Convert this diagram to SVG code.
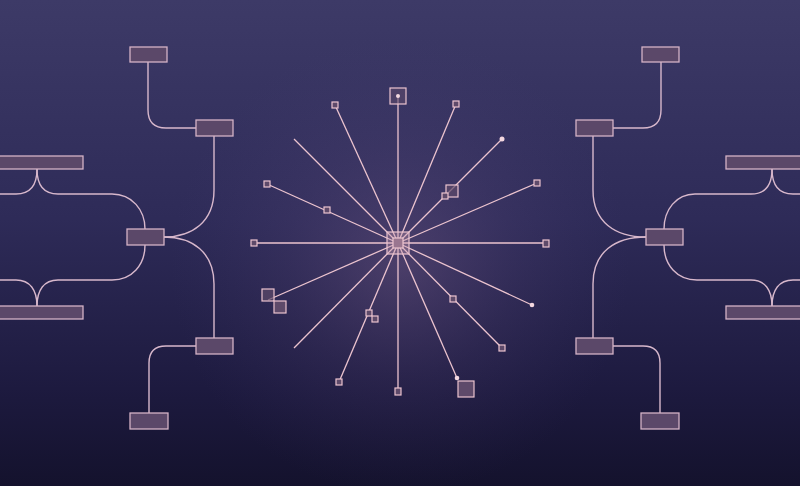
<svg xmlns="http://www.w3.org/2000/svg" width="800" height="486" viewBox="0 0 800 486">
<defs>
<linearGradient id="bg" x1="0" y1="0" x2="0" y2="1">
<stop offset="0" stop-color="#3d3a67"/>
<stop offset="0.45" stop-color="#2e2b58"/>
<stop offset="0.8" stop-color="#1d1a3f"/>
<stop offset="1" stop-color="#14122d"/>
</linearGradient>
<radialGradient id="glow" cx="400" cy="265" r="230" gradientUnits="userSpaceOnUse">
<stop offset="0" stop-color="#8a6a96" stop-opacity="0.35"/>
<stop offset="0.5" stop-color="#6a5488" stop-opacity="0.15"/>
<stop offset="1" stop-color="#4a3e78" stop-opacity="0"/>
</radialGradient>
<style>
.box{fill:#5b4869;stroke:#d4b2c6;stroke-width:1.3}
.conn{fill:none;stroke:#d8b8cc;stroke-width:1.4}
.ray{fill:none;stroke:#ecc4cf;stroke-width:1.3}
.sq{fill:#5e4a6a;stroke:#ecc4cf;stroke-width:1.2}
.dot{fill:#f4d8e0}
</style>
</defs>
<rect width="800" height="486" fill="url(#bg)"/>
<rect width="800" height="486" fill="url(#glow)"/>

<g id="connectors">
<path class="conn" d="M148,62 V110 Q148,128 166,128 H196"/>
<path class="conn" d="M214,136 V190 C214,222 192,237 164,237"/>
<path class="conn" d="M164,237 C192,237 214,252 214,284 V338"/>
<path class="conn" d="M37,169 C37,185 44,194 58,194 H112 C132,194 145,210 145,229"/>
<path class="conn" d="M37,169 C37,185 30,194 16,194 H-5"/>
<path class="conn" d="M145,245 C145,265 132,280 112,280 H58 C44,280 37,290 37,306"/>
<path class="conn" d="M37,306 C37,290 30,280 16,280 H-5"/>
<path class="conn" d="M196,346 H166 Q149,346 149,363 V413"/>

<path class="conn" d="M661,62 V110 Q661,128 643,128 H613"/>
<path class="conn" d="M593,136 V190 C593,222 615,237 646,237"/>
<path class="conn" d="M646,237 C615,237 593,252 593,284 V338"/>
<path class="conn" d="M772,169 C772,185 765,194 751,194 H695 C676,194 664,210 664,229"/>
<path class="conn" d="M772,169 C772,185 779,194 793,194 H805"/>
<path class="conn" d="M664,245 C664,265 677,280 697,280 H751 C765,280 772,290 772,306"/>
<path class="conn" d="M772,306 C772,290 779,280 793,280 H805"/>
<path class="conn" d="M613,346 H643 Q660,346 660,363 V413"/>
</g>

<g id="left-nodes">
<rect id="l-top" class="box" x="130" y="47" width="37" height="15"/>
<rect id="l-upper" class="box" x="196" y="120" width="37" height="16"/>
<rect id="l-bar-top" class="box" x="-5" y="156" width="88" height="13"/>
<rect id="l-mid" class="box" x="127" y="229" width="37" height="16"/>
<rect id="l-bar-bottom" class="box" x="-5" y="306" width="88" height="13"/>
<rect id="l-lower" class="box" x="196" y="338" width="37" height="16"/>
<rect id="l-bottom" class="box" x="130" y="413" width="38" height="16"/>
</g>

<g id="right-nodes">
<rect id="r-top" class="box" x="642" y="47" width="37" height="15"/>
<rect id="r-upper" class="box" x="576" y="120" width="37" height="16"/>
<rect id="r-bar-top" class="box" x="726" y="156" width="80" height="13"/>
<rect id="r-mid" class="box" x="646" y="229" width="37" height="16"/>
<rect id="r-bar-bottom" class="box" x="726" y="306" width="80" height="13"/>
<rect id="r-lower" class="box" x="576" y="338" width="37" height="16"/>
<rect id="r-bottom" class="box" x="641" y="413" width="38" height="16"/>
</g>

<g id="rays">
<line class="ray" x1="398" y1="243" x2="546" y2="243"/>
<line class="ray" x1="398" y1="243" x2="537" y2="183"/>
<line class="ray" x1="398" y1="243" x2="502" y2="139"/>
<line class="ray" x1="398" y1="243" x2="456" y2="104"/>
<line class="ray" x1="398" y1="243" x2="398" y2="96"/>
<line class="ray" x1="398" y1="243" x2="335" y2="105"/>
<line class="ray" x1="398" y1="243" x2="294" y2="139"/>
<line class="ray" x1="398" y1="243" x2="267" y2="184"/>
<line class="ray" x1="398" y1="243" x2="254" y2="243"/>
<line class="ray" x1="398" y1="243" x2="268" y2="300"/>
<line class="ray" x1="398" y1="243" x2="294" y2="348"/>
<line class="ray" x1="398" y1="243" x2="339" y2="382"/>
<line class="ray" x1="398" y1="243" x2="398" y2="392"/>
<line class="ray" x1="398" y1="243" x2="457" y2="378"/>
<line class="ray" x1="398" y1="243" x2="502" y2="348"/>
<line class="ray" x1="398" y1="243" x2="532" y2="305"/>
</g>

<g id="hub">
<rect class="sq" x="387" y="232" width="22" height="22" style="fill:#c89aae;fill-opacity:0.35"/>
<rect class="sq" x="393" y="238" width="10" height="10" style="fill:#9a7690"/>
</g>

<g id="ray-ends">
<rect class="sq" x="543" y="240" width="6" height="7"/>
<rect class="sq" x="534" y="180" width="6" height="6"/>
<circle class="dot" cx="502" cy="139" r="2.5"/>
<rect class="sq" x="446" y="185" width="12" height="12" style="fill-opacity:0.7"/>
<rect class="sq" x="442" y="193" width="6" height="6"/>
<rect class="sq" x="453" y="101" width="6" height="6"/>
<rect class="sq" x="390" y="88" width="16" height="16" style="fill-opacity:0.6"/>
<circle class="dot" cx="398" cy="96" r="2"/>
<rect class="sq" x="332" y="102" width="6" height="6"/>
<rect class="sq" x="264" y="181" width="6" height="6"/>
<rect class="sq" x="324" y="207" width="6" height="6"/>
<rect class="sq" x="251" y="240" width="6" height="6"/>
<rect class="sq" x="262" y="289" width="12" height="12" style="fill-opacity:0.7"/>
<rect class="sq" x="274" y="301" width="12" height="12"/>
<rect class="sq" x="336" y="379" width="6" height="6"/>
<rect class="sq" x="366" y="310" width="6" height="6"/>
<rect class="sq" x="372" y="316" width="6" height="6"/>
<rect class="sq" x="395" y="388" width="6" height="7"/>
<circle class="dot" cx="457" cy="378" r="2.3"/>
<rect class="sq" x="458" y="381" width="16" height="16"/>
<rect class="sq" x="499" y="345" width="6" height="6"/>
<rect class="sq" x="450" y="296" width="6" height="6"/>
<circle class="dot" cx="532" cy="305" r="2.3"/>
</g>
</svg>
